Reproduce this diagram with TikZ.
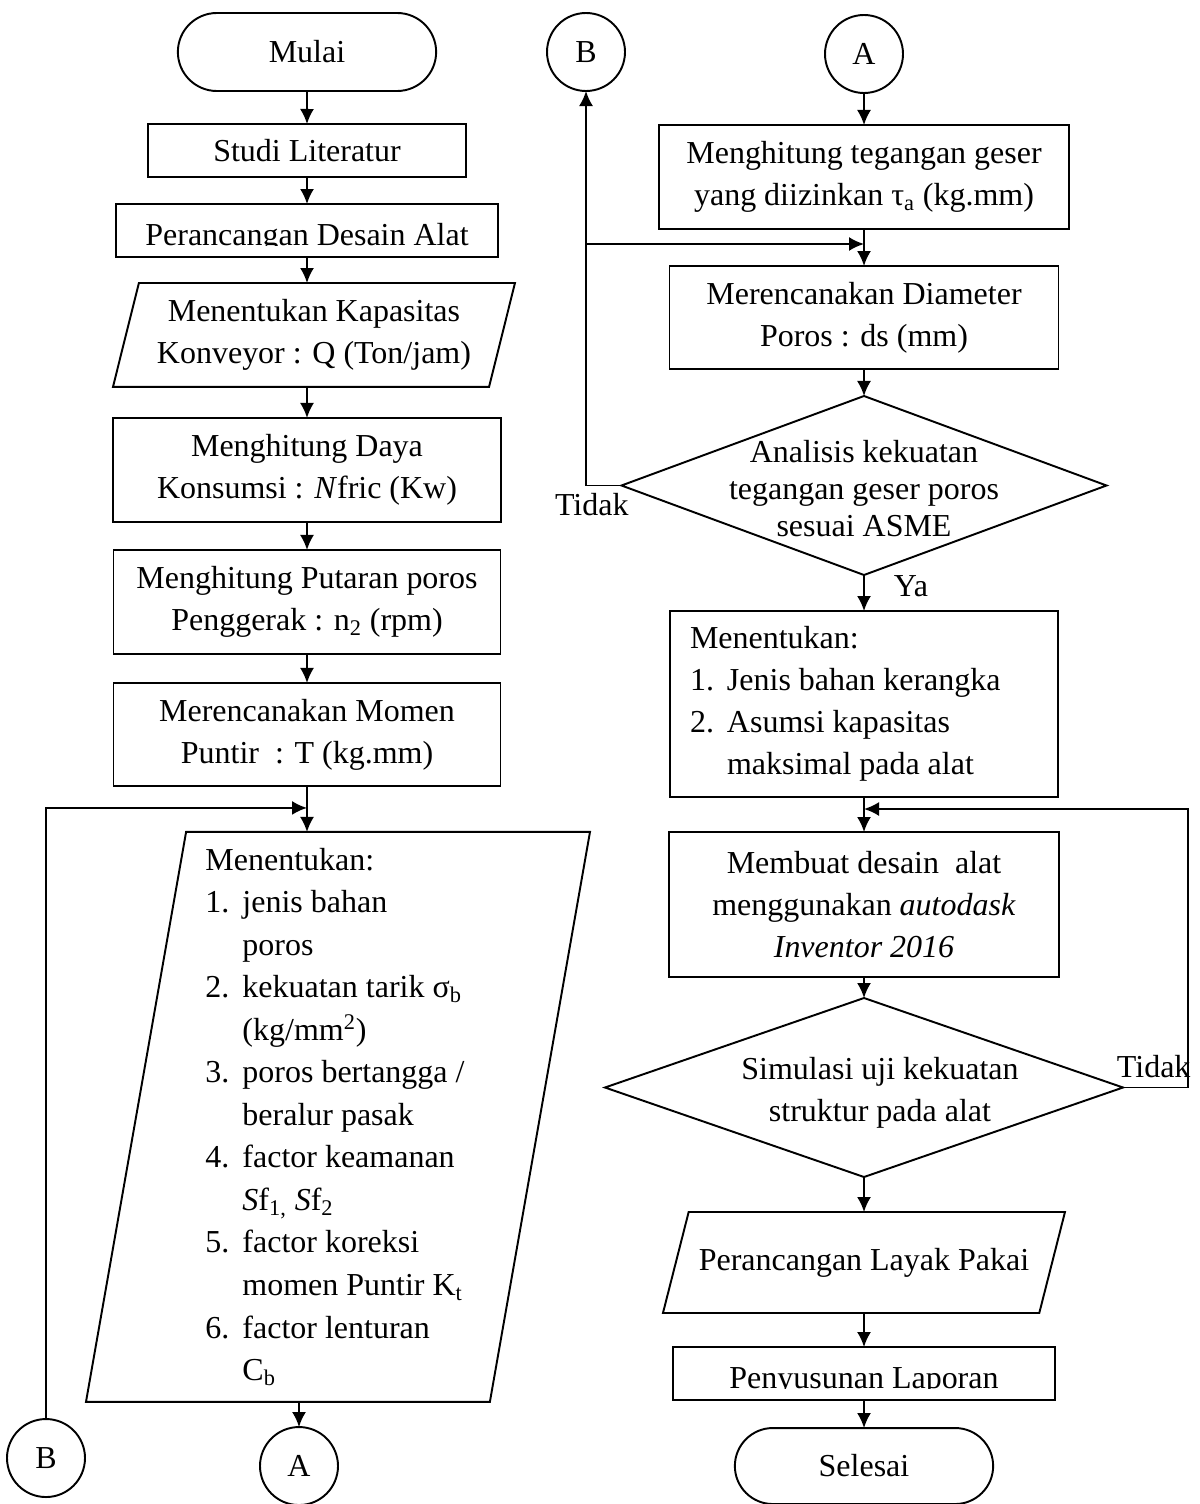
\documentclass[tikz,border=0pt]{standalone}
\usepackage{fontspec}
\setmainfont{Liberation Serif}
\usepackage{tikz}
\usetikzlibrary{positioning,shapes,arrows.meta}
\usepackage{adjustbox}
\tikzstyle{terminal}=[draw,rounded rectangle,minimum width=5.4cm,minimum height=1.56cm,outer sep=0pt]
\tikzstyle{proses}=[draw,rectangle,align=center,inner sep=1pt,outer sep=0pt]
\tikzstyle{dataio}=[draw,trapezium,trapezium stretches body,inner xsep=1pt,align=center,outer sep=0pt]
\tikzstyle{keputusan}=[draw,diamond,inner sep=0pt,outer sep=0pt]
\tikzstyle{konektor}=[draw,circle,minimum size=1.56cm,inner sep=0pt,outer sep=0pt]
\tikzstyle{ket}=[inner sep=0pt]
\tikzstyle{terpotong}=[text height=0.58cm,text depth=0pt]
\newcommand{\langkah}[4]{\node[#3](#1)[#4]{#2};}
\newcommand{\alir}[2]{\draw[->] (#1) -- (#2);}
\newcommand{\nomor}[1]{\makebox[0.74cm][l]{#1}}
\newcommand{\lanjut}{\hspace*{0.74cm}}
\newcommand{\potong}[1]{\clipbox{0pt {\depth} 0pt 0pt}{#1}}

\begin{document}
\begin{tikzpicture}[node distance=0.56cm,
      >={Latex[length=0.3cm,width=0.28cm]},
      line width=1.1pt,
      font=\fontsize{18.2}{23.8}\selectfont
      ]
      \useasboundingbox (0,0) rectangle (24,-30.08);
      % kolom kiri
      \langkah{mulai}{Mulai}{terminal}{at={(6.14,-1.04)}}
      \langkah{studi}{Studi Literatur}{proses,minimum width=6.36cm,minimum height=1.06cm}{below=0.66cm of mulai}
      \langkah{desain}{\potong{Perancangan Desain Alat}}{proses,terpotong,minimum width=7.64cm,minimum height=1.06cm}{below=0.54cm of studi}
      \langkah{kapasitas}{Menentukan Kapasitas\\Konveyor : Q (Ton/jam)}{dataio,inner ysep=0.33cm,trapezium left angle=76,trapezium right angle=104,minimum width=8.04cm,minimum height=2.06cm}{below=0.52cm of desain,xshift=0.14cm}
      \langkah{daya}{Menghitung Daya\\Konsumsi : \textit{N}fric (Kw)}{proses,minimum width=7.76cm,minimum height=2.08cm}{below=0.62cm of kapasitas,xshift=-0.14cm}
      \langkah{putaran}{Menghitung Putaran poros\\Penggerak : n\textsubscript{2} (rpm)}{proses,minimum width=7.74cm,minimum height=2.08cm}{below=0.56cm of daya}
      \langkah{momen}{Merencanakan Momen\\Puntir \ : T (kg.mm)}{proses,minimum width=7.74cm,minimum height=2.06cm}{below=0.58cm of putaran}
      \langkah{tentukan}{Menentukan:\\\nomor{1.}jenis bahan\\\lanjut poros\\\nomor{2.}kekuatan tarik σ\textsubscript{b}\\\lanjut (kg/mm\textsuperscript{2})\\\nomor{3.}poros bertangga /\\\lanjut beralur pasak\\\nomor{4.}factor keamanan\\\lanjut \textit{S}f\textsubscript{1,} \textit{S}f\textsubscript{2}\\\nomor{5.}factor koreksi\\\lanjut momen Puntir K\textsubscript{t}\\\nomor{6.}factor lenturan\\\lanjut C\textsubscript{b}}{dataio,align=flush left,text width=5.3cm,inner ysep=0.3cm,font=\fontsize{18.2}{24.2}\selectfont,trapezium left angle=80,trapezium right angle=100,minimum width=10.08cm,minimum height=11.4cm}{below=0.92cm of momen,xshift=0.62cm}
      \langkah{aBawah}{A}{konektor}{below=0.5cm of tentukan,xshift=-0.78cm}
      \langkah{bBawah}{B}{konektor}{left=3.5cm of aBawah,yshift=0.16cm}
      % kolom kanan
      \langkah{aAtas}{A}{konektor}{at={(17.28,-1.08)}}
      \langkah{bAtas}{B}{konektor}{left=4cm of aAtas,yshift=0.04cm}
      \langkah{geser}{Menghitung tegangan geser\\yang diizinkan τ\textsubscript{a} (kg.mm)}{proses,minimum width=8.2cm,minimum height=2.08cm}{below=0.64cm of aAtas}
      \langkah{diameter}{Merencanakan Diameter\\Poros : ds (mm)}{proses,minimum width=7.78cm,minimum height=2.06cm}{below=0.74cm of geser}
      \langkah{uji1}{}{keputusan,minimum width=9.7cm,minimum height=3.58cm,label={[align=center,yshift=-0.06cm,font=\fontsize{18.2}{21}\selectfont]center:Analisis kekuatan\\tegangan geser poros\\sesuai ASME}}{below=0.54cm of diameter}
      \langkah{tentukan2}{Menentukan:\\\nomor{1.}Jenis bahan kerangka\\\nomor{2.}Asumsi kapasitas\\\lanjut maksimal pada alat}{proses,align=flush left,text width=6.96cm,font=\fontsize{18.2}{23.9}\selectfont,minimum width=7.76cm,minimum height=3.72cm}{below=0.72cm of uji1}
      \langkah{membuat}{Membuat desain \ alat\\menggunakan \textit{autodask}\\\textit{Inventor 2016}}{proses,minimum width=7.8cm,minimum height=2.9cm}{below=0.7cm of tentukan2}
      \langkah{uji2}{}{keputusan,minimum width=10.36cm,minimum height=3.58cm,label={[align=center,xshift=0.32cm,yshift=-0.1cm]center:Simulasi uji kekuatan\\struktur pada alat}}{below=0.42cm of membuat}
      \langkah{layak}{Perancangan Layak Pakai}{dataio,inner ysep=0.71cm,trapezium left angle=75.6,trapezium right angle=104.4,minimum width=8.04cm,minimum height=2.02cm}{below=0.7cm of uji2}
      \langkah{laporan}{\potong{Penyusunan Laporan}}{proses,terpotong,minimum width=7.64cm,minimum height=1.06cm}{below=0.68cm of layak}
      \langkah{selesai}{Selesai}{terminal,minimum height=1.52cm}{below=0.56cm of laporan}
      % alur kiri
      \alir{mulai}{studi}
      \alir{studi}{desain}
      \draw[->] (desain) -- (desain |- kapasitas.north);
      \draw[->] (daya |- kapasitas.south) -- (daya);
      \alir{daya}{putaran}
      \alir{putaran}{momen}
      \draw[->] (momen) -- (momen |- tentukan.north);
      \draw[->] (aBawah |- tentukan.south) -- (aBawah);
      \coordinate (masukB) at ([yshift=-0.44cm]momen.south);
      \draw[->] (bBawah) |- (masukB);
      % alur kanan
      \alir{aAtas}{geser}
      \alir{geser}{diameter}
      \alir{diameter}{uji1}
      \path[->] (uji1) edge node[ket,right=0.58cm,pos=0.3]{Ya} (tentukan2);
      \alir{tentukan2}{membuat}
      \alir{membuat}{uji2}
      \alir{uji2}{layak}
      \alir{layak}{laporan}
      \alir{laporan}{selesai}
      \draw[->] (uji1.west) -- node[ket,pos=0,anchor=north east,xshift=0.16cm,yshift=-0.14cm]{Tidak} (uji1.west -| bAtas) -- (bAtas);
      \coordinate (masukDia) at ([yshift=-0.3cm]geser.south);
      \draw[->] (bAtas |- masukDia) -- (masukDia);
      \coordinate (masukBuat) at ([yshift=-0.24cm]tentukan2.south);
      \draw[->] (uji2.east) -- node[ket,pos=0,anchor=south west,xshift=-0.14cm,yshift=0.18cm]{Tidak} ++(1.3,0) |- (masukBuat);
    \end{tikzpicture}
\end{document}
